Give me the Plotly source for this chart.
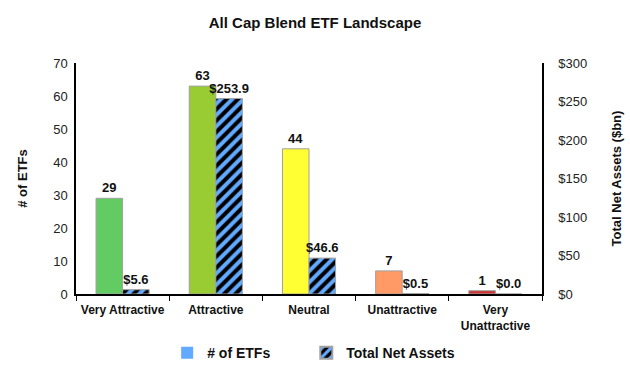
import plotly.graph_objects as go

categories = ["Very Attractive", "Attractive", "Neutral", "Unattractive", "Very<br>Unattractive"]
etf_counts = [29, 63, 44, 7, 1]
net_assets = [5.6, 253.9, 46.6, 0.5, 0.0]
bar_colors = ["#62cc62", "#99cc33", "#ffff33", "#ff9966", "#cc3333"]
left_ticks = [0, 10, 20, 30, 40, 50, 60, 70]
right_ticks = [0, 50, 100, 150, 200, 250, 300]

FONT = "Liberation Sans, Arial, sans-serif"
SP = "\u00a0"

fig = go.Figure()

fig.add_trace(go.Bar(
    x=categories, y=etf_counts, name="# of ETFs", showlegend=False,
    marker=dict(color=bar_colors, line=dict(color="#a0a0a0", width=1)),
    text=[f"<b>{v}</b>" for v in etf_counts], textposition="outside",
    constraintext="none",
    textfont=dict(family=FONT, size=13, color="#111111"),
    offsetgroup="a", yaxis="y", cliponaxis=False,
))
fig.add_trace(go.Bar(
    x=categories, y=net_assets, name="<b>Total Net Assets</b>",
    marker=dict(color="black", line=dict(color="#a0a0a0", width=1),
                pattern=dict(shape="/", fgcolor="#62aaff", bgcolor="black",
                             fillmode="replace", size=8, solidity=0.5)),
    text=[f"<b>${v:.1f}</b>" for v in net_assets], textposition="outside",
    constraintext="none",
    textfont=dict(family=FONT, size=13, color="#111111"),
    offsetgroup="b", yaxis="y2", cliponaxis=False,
))
# legend proxy for the multi-coloured count series
fig.add_trace(go.Scatter(
    x=[None], y=[None], mode="markers", name="<b># of ETFs</b>" + SP * 8,
    marker=dict(symbol="square", color="#62aaff", size=7),
))

fig.update_layout(
    width=630, height=369,
    margin=dict(l=76, r=88, t=63, b=75, autoexpand=False),
    paper_bgcolor="white", plot_bgcolor="white",
    font=dict(family=FONT, size=12, color="#222222"),
    title=dict(text="<b>All Cap Blend ETF Landscape</b>", x=0.5, xanchor="center",
               y=0.937, yanchor="middle", font=dict(size=15, color="#111111")),
    barmode="group", bargap=0.43, bargroupgap=0.0,
    showlegend=True,
    legend=dict(orientation="h", x=0.51, xanchor="center", yref="container",
                y=0.043, yanchor="middle",
                font=dict(size=14, color="#111111"), traceorder="reversed",
                itemsizing="constant", itemwidth=30),
    xaxis=dict(
        showline=True, linecolor="black", linewidth=1.5, automargin=False,
        tickson="boundaries", ticks="outside", ticklen=5, tickcolor="black",
        tickfont=dict(size=12, color="#111111"), ticklabelstandoff=4,
        tickvals=categories, ticktext=[f"<b>{c}</b>" for c in categories],
        showgrid=False,
    ),
    yaxis=dict(
        range=[0, 70], tickvals=left_ticks, showgrid=False, zeroline=False,
        showline=True, linecolor="black", linewidth=1.5, ticks="", automargin=False,
        tickfont=dict(size=13, color="#222222"), ticklabelstandoff=4,
        title=dict(text="<b># of ETFs</b>", font=dict(size=13, color="#111111"), standoff=23),
    ),
    yaxis2=dict(
        overlaying="y", side="right", range=[0, 300], tickvals=right_ticks,
        ticktext=[f"${v}" for v in right_ticks], showgrid=False, zeroline=False,
        showline=True, linecolor="black", linewidth=1.5, ticks="", automargin=False,
        tickfont=dict(size=13, color="#222222"), ticklabelstandoff=12,
        title=dict(text="<b>Total Net Assets ($bn)</b>", font=dict(size=13, color="#111111"), standoff=26),
    ),
)

fig.write_html("out.html", config={"displayModeBar": False},
               post_script="document.body.style.margin='0';")
